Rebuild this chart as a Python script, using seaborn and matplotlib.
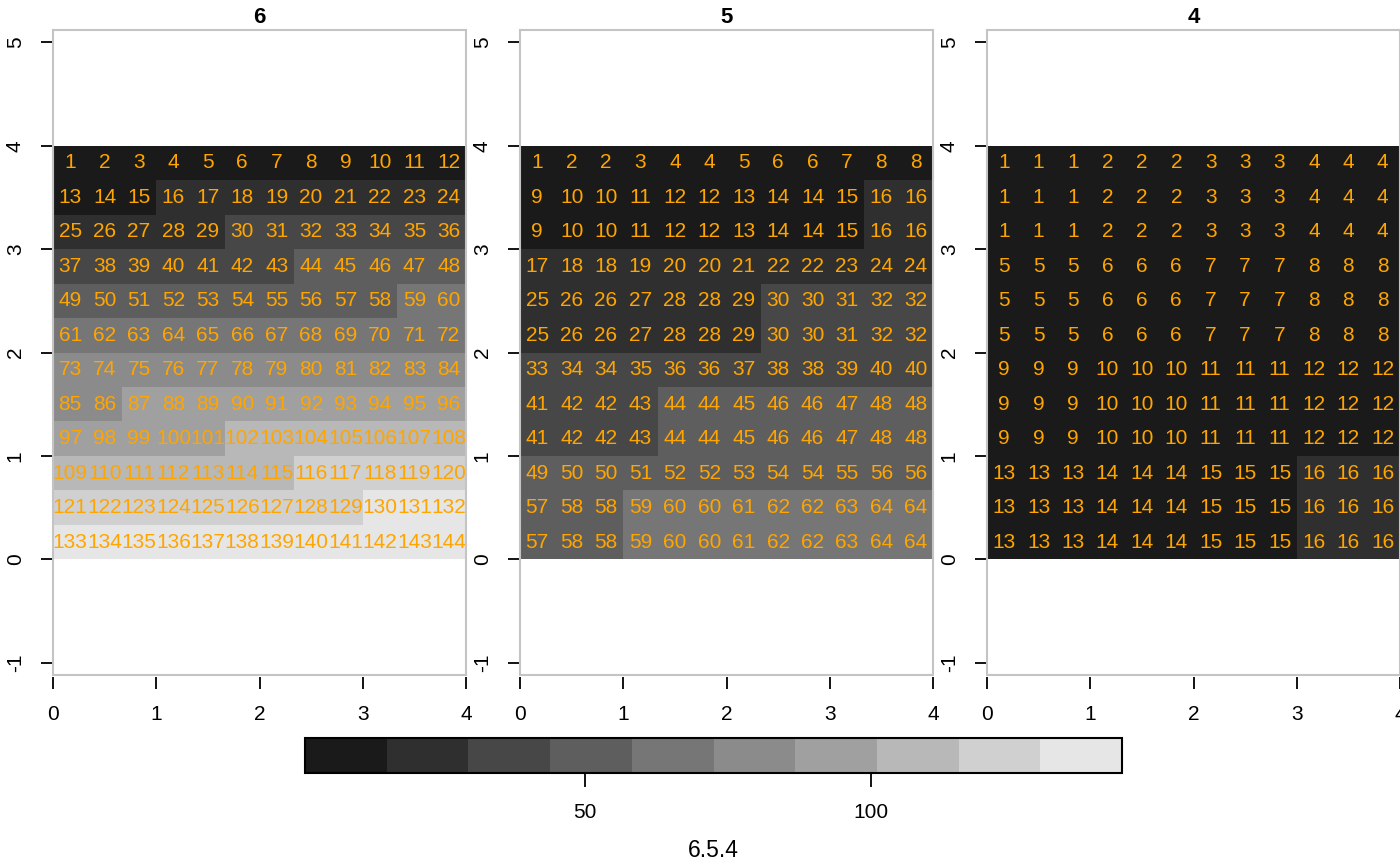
import numpy as np
import matplotlib
matplotlib.use("Agg")
import matplotlib.pyplot as plt
from matplotlib.colors import ListedColormap
from matplotlib.patches import Rectangle
import seaborn as sns

# panel titles and legend title
panel_names = ["6", "5", "4"]
legend_title = "6.5.4"

# cell values, top row first
raster_6 = [
    [1, 2, 3, 4, 5, 6, 7, 8, 9, 10, 11, 12],
    [13, 14, 15, 16, 17, 18, 19, 20, 21, 22, 23, 24],
    [25, 26, 27, 28, 29, 30, 31, 32, 33, 34, 35, 36],
    [37, 38, 39, 40, 41, 42, 43, 44, 45, 46, 47, 48],
    [49, 50, 51, 52, 53, 54, 55, 56, 57, 58, 59, 60],
    [61, 62, 63, 64, 65, 66, 67, 68, 69, 70, 71, 72],
    [73, 74, 75, 76, 77, 78, 79, 80, 81, 82, 83, 84],
    [85, 86, 87, 88, 89, 90, 91, 92, 93, 94, 95, 96],
    [97, 98, 99, 100, 101, 102, 103, 104, 105, 106, 107, 108],
    [109, 110, 111, 112, 113, 114, 115, 116, 117, 118, 119, 120],
    [121, 122, 123, 124, 125, 126, 127, 128, 129, 130, 131, 132],
    [133, 134, 135, 136, 137, 138, 139, 140, 141, 142, 143, 144],
]
raster_5 = [
    [1, 2, 2, 3, 4, 4, 5, 6, 6, 7, 8, 8],
    [9, 10, 10, 11, 12, 12, 13, 14, 14, 15, 16, 16],
    [9, 10, 10, 11, 12, 12, 13, 14, 14, 15, 16, 16],
    [17, 18, 18, 19, 20, 20, 21, 22, 22, 23, 24, 24],
    [25, 26, 26, 27, 28, 28, 29, 30, 30, 31, 32, 32],
    [25, 26, 26, 27, 28, 28, 29, 30, 30, 31, 32, 32],
    [33, 34, 34, 35, 36, 36, 37, 38, 38, 39, 40, 40],
    [41, 42, 42, 43, 44, 44, 45, 46, 46, 47, 48, 48],
    [41, 42, 42, 43, 44, 44, 45, 46, 46, 47, 48, 48],
    [49, 50, 50, 51, 52, 52, 53, 54, 54, 55, 56, 56],
    [57, 58, 58, 59, 60, 60, 61, 62, 62, 63, 64, 64],
    [57, 58, 58, 59, 60, 60, 61, 62, 62, 63, 64, 64],
]
raster_4 = [
    [1, 1, 1, 2, 2, 2, 3, 3, 3, 4, 4, 4],
    [1, 1, 1, 2, 2, 2, 3, 3, 3, 4, 4, 4],
    [1, 1, 1, 2, 2, 2, 3, 3, 3, 4, 4, 4],
    [5, 5, 5, 6, 6, 6, 7, 7, 7, 8, 8, 8],
    [5, 5, 5, 6, 6, 6, 7, 7, 7, 8, 8, 8],
    [5, 5, 5, 6, 6, 6, 7, 7, 7, 8, 8, 8],
    [9, 9, 9, 10, 10, 10, 11, 11, 11, 12, 12, 12],
    [9, 9, 9, 10, 10, 10, 11, 11, 11, 12, 12, 12],
    [9, 9, 9, 10, 10, 10, 11, 11, 11, 12, 12, 12],
    [13, 13, 13, 14, 14, 14, 15, 15, 15, 16, 16, 16],
    [13, 13, 13, 14, 14, 14, 15, 15, 15, 16, 16, 16],
    [13, 13, 13, 14, 14, 14, 15, 15, 15, 16, 16, 16],
]
rasters = [raster_6, raster_5, raster_4]

value_min, value_max = 1, 144
x_ticks = [0, 1, 2, 3, 4]
y_ticks = [-1, 0, 1, 2, 3, 4, 5]
legend_ticks = [50, 100]

# 10 grey classes, dark to light
grey_classes = ["#1a1a1a", "#2f2f2f", "#474747", "#5e5e5e", "#767676",
                "#8b8b8b", "#a0a0a0", "#b8b8b8", "#d0d0d0", "#e6e6e6"]

sns.set_style("white")
plt.rcParams["font.family"] = ["Liberation Sans", "DejaVu Sans"]
plt.rcParams["text.color"] = "black"
plt.rcParams["xtick.color"] = "black"
plt.rcParams["ytick.color"] = "black"
plt.rcParams["axes.labelcolor"] = "black"

grey_cmap = ListedColormap(grey_classes)
W, H = 1400, 865
fig = plt.figure(figsize=(14, 8.65), dpi=100)

lefts = [53, 520, 987]
mesh = None
for name, grid, left in zip(panel_names, rasters, lefts):
    ax = fig.add_axes([left / W, (H - 675) / H, 413 / W, 645 / H])
    ax.set_xlim(0, 4)
    ax.set_ylim(-1.12, 5.12)
    for s in ax.spines.values():
        s.set_visible(False)
    ax.spines["bottom"].set_position(("outward", 1.5))
    ax.set_xticks(x_ticks, labels=[str(t) for t in x_ticks])
    ax.set_yticks(y_ticks, labels=[str(t) for t in y_ticks],
                  rotation=90, ha="center", va="center")
    ax.tick_params(bottom=True, left=True, length=8.6, width=1.3,
                   color="black", labelcolor="black", labelsize=15,
                   direction="out")
    ax.tick_params(axis="x", pad=11.5)
    ax.tick_params(axis="y", pad=18.5)
    ax.set_title(name, fontsize=16, fontweight="bold", pad=5, color="black")

    # raster cells sit in data box 0..4 x 0..4
    hax = ax.inset_axes([0, 0, 4, 4], transform=ax.transData)
    sns.heatmap(np.array(grid), ax=hax, cmap=grey_cmap,
                vmin=value_min, vmax=value_max, annot=True, fmt="d",
                annot_kws={"color": "orange", "fontsize": 15},
                cbar=False, xticklabels=False, yticklabels=False)
    hax.patch.set_alpha(0)
    if mesh is None:
        mesh = hax.collections[0]

    ax.add_patch(Rectangle((0, 0), 1, 1, transform=ax.transAxes, fill=False,
                           ec="#c4c4c4", lw=1.5, zorder=10, clip_on=False))

cax = fig.add_axes([305 / W, (H - 773) / H, 817 / W, 35 / H])
cb = fig.colorbar(mesh, cax=cax, orientation="horizontal", ticks=legend_ticks)
cb.outline.set_linewidth(1.5)
cb.outline.set_edgecolor("black")
cax.tick_params(length=10, width=1.3, color="black", labelcolor="black",
                labelsize=15, pad=11.5)
cb.set_label(legend_title, fontsize=16.5, labelpad=12, color="black")

fig.savefig("out.png", dpi=100)
